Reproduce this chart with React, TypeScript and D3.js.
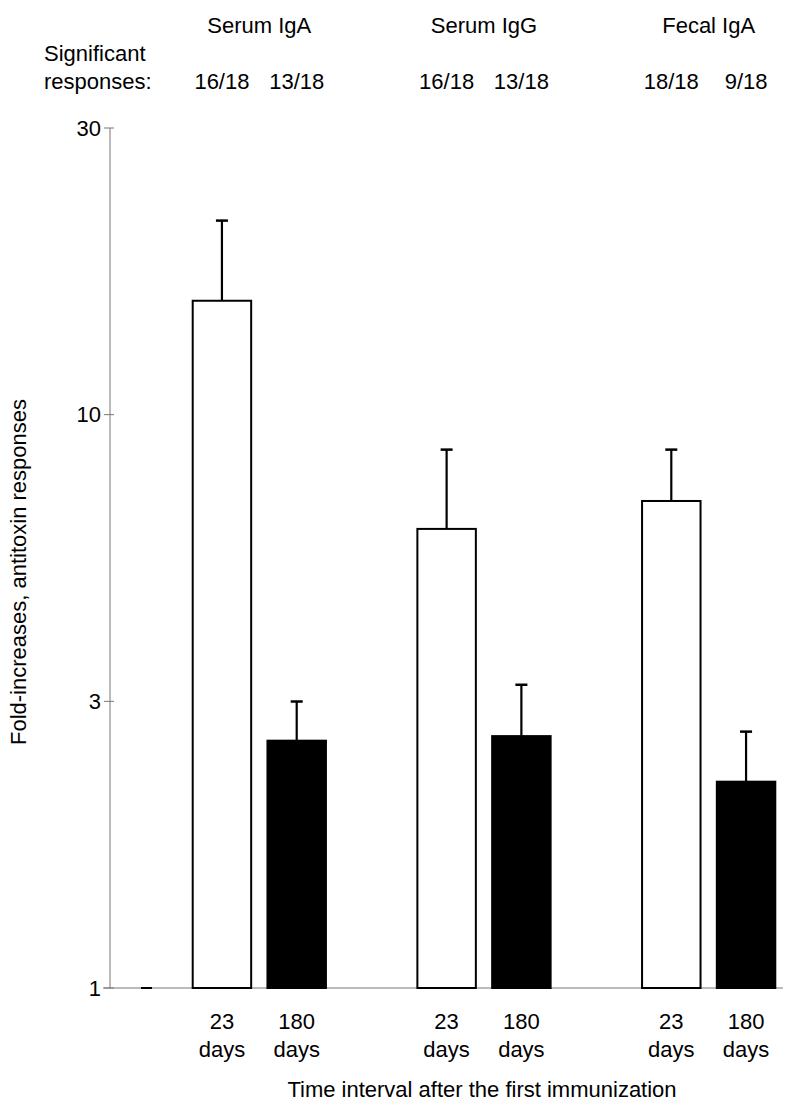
import React from 'react';
import * as d3 from 'd3';

// groups and the two sampling times
const groups = ['Serum IgA', 'Serum IgG', 'Fecal IgA'];
const intervals = ['23', '180'];
const significant = [
  ['16/18', '13/18'],
  ['16/18', '13/18'],
  ['18/18', '9/18'],
];
// mean fold-increase and top of the error bar
const means = [
  [15.8, 2.7],
  [6.32, 2.75],
  [7.07, 2.29],
];
const upper = [
  [21.8, 3.16],
  [8.69, 3.38],
  [8.69, 2.8],
];
// the printed axis puts 3 and 30 half a decade apart
const yTickValues = [1, 3.162, 10, 31.62];
const yTickLabels = ['1', '3', '10', '30'];

const font = '"Liberation Sans", Arial, sans-serif';

export default function App() {
  const width = 800;
  const height = 1118;
  const baseY = 988;
  const axisX = 110;

  const y = d3.scaleLog().domain([1, 31.62]).range([baseY, 128]);
  const x = d3.scaleBand().domain(groups).range([192.7, 775.3]).paddingInner(0.407);
  const sub = d3.scaleBand().domain(intervals).range([0, x.bandwidth()]).paddingInner(0.218);
  const bw = sub.bandwidth();

  const bars = groups.flatMap((g, gi) =>
    intervals.map((t, ti) => {
      const left = (x(g) as number) + (sub(t) as number);
      return {
        key: `${g}-${t}`,
        t,
        left,
        cx: left + bw / 2,
        top: y(means[gi][ti]),
        err: y(upper[gi][ti]),
        label: significant[gi][ti],
        filled: ti === 1,
      };
    })
  );

  return (
    <svg
      width={width}
      height={height}
      style={{ position: 'absolute', left: 0, top: 0, display: 'block', background: '#fff' }}
      fontFamily={font}
      fontSize={22}
    >
      {/* y axis */}
      <line x1={axisX} x2={axisX} y1={y(31.62)} y2={baseY} stroke="#777" strokeWidth={1} />
      {yTickValues.map((v, i) => (
        <g key={v}>
          <line x1={axisX - 6} x2={axisX + 4} y1={y(v)} y2={y(v)} stroke="#777" strokeWidth={1} />
          <text x={axisX - 9} y={y(v)} dy="0.35em" textAnchor="end" fill="#000">
            {yTickLabels[i]}
          </text>
        </g>
      ))}
      {/* baseline */}
      <line x1={103} x2={783} y1={baseY} y2={baseY} stroke="#777" strokeWidth={1} />
      <line x1={141} x2={152} y1={baseY} y2={baseY} stroke="#000" strokeWidth={2} />

      {bars.map((b) => (
        <g key={b.key}>
          <line x1={b.cx} x2={b.cx} y1={b.top} y2={b.err} stroke="#000" strokeWidth={2.2} />
          <line x1={b.cx - 6} x2={b.cx + 6} y1={b.err} y2={b.err} stroke="#000" strokeWidth={2.5} />
          <rect
            x={b.left}
            y={b.top}
            width={bw}
            height={baseY - b.top}
            fill={b.filled ? '#000' : '#fff'}
            stroke="#000"
            strokeWidth={2}
          />
          <text x={b.cx} y={89} textAnchor="middle">{b.label}</text>
          <text x={b.cx} y={1029} textAnchor="middle">{b.t}</text>
          <text x={b.cx} y={1057} textAnchor="middle">days</text>
        </g>
      ))}

      {groups.map((g) => (
        <text key={g} x={(x(g) as number) + x.bandwidth() / 2} y={33} textAnchor="middle">
          {g}
        </text>
      ))}

      <text x={44} y={61}>Significant</text>
      <text x={44} y={89}>responses:</text>

      <text x={482} y={1097} textAnchor="middle">Time interval after the first immunization</text>
      <text transform="translate(26, 572) rotate(-90)" textAnchor="middle">
        Fold-increases, antitoxin responses
      </text>
    </svg>
  );
}
